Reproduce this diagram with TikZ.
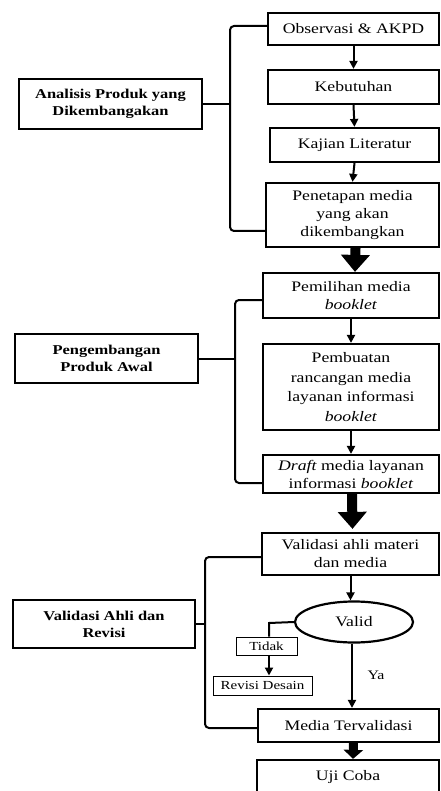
\documentclass[tikz,border=0pt]{standalone}
\usepackage{fontspec}
\setmainfont[FakeStretch=1.22]{Liberation Serif}
\usetikzlibrary{arrows.meta,shapes.geometric}
\begin{document}
\begin{tikzpicture}[x=1pt,y=-1pt,
  box/.style={draw,line width=2.2pt,align=center,inner sep=0pt,
    font=\fontsize{14.5}{18}\selectfont},
  head/.style={draw,line width=2.2pt,align=center,inner sep=0pt,
    font=\fontsize{13.5}{17}\selectfont\bfseries},
  small/.style={draw,line width=1pt,align=center,inner sep=0pt,
    font=\fontsize{12.3}{14}\selectfont},
  bracket/.style={line width=2pt,rounded corners=4pt},
  arr/.style={line width=2pt,-{Triangle[width=8pt,length=8pt]}},
  bigarr/.style={line width=10pt,-{Triangle[width=28pt,length=17pt]}},
  midarr/.style={line width=9pt,-{Triangle[width=19pt,length=9pt]}}]
\useasboundingbox (0,0) rectangle (440,791);
\clip (0,0) rectangle (440,791);
\fill[white] (0,0) rectangle (440,791);
% section 1
\node[box,minimum width=171pt,minimum height=32pt] (obs) at (353.5,29) {Observasi \& AKPD};
\node[box,minimum width=171pt,minimum height=34pt] (keb) at (353.5,87) {Kebutuhan};
\node[box,minimum width=169pt,minimum height=34pt] (kaj) at (354.5,145) {Kajian Literatur};
\node[box,minimum width=173pt,minimum height=64pt] (pen) at (352.5,215) {Penetapan media\\yang akan\\dikembangkan};
\node[head,minimum width=183pt,minimum height=50pt] (ana) at (110.5,104) {Analisis Produk yang\\Dikembangakan};
% section 2
\node[box,minimum width=176pt,minimum height=45pt] (pem) at (351,295.5) {Pemilihan media\\\textit{booklet}};
\node[box,minimum width=176pt,minimum height=86pt,font=\fontsize{14.5}{19.5}\selectfont] (pbu) at (351,387) {Pembuatan\\rancangan media\\layanan informasi\\\textit{booklet}};
\node[box,minimum width=176pt,minimum height=38pt] (dra) at (351,474) {\textit{Draft} media layanan\\informasi \textit{booklet}};
\node[head,minimum width=183pt,minimum height=49pt] (pga) at (106.5,358.5) {Pengembangan\\Produk Awal};
% section 3
\node[box,minimum width=177pt,minimum height=42pt] (val) at (350.5,554) {Validasi ahli materi\\dan media};
\node[draw,line width=2.2pt,ellipse,minimum width=118pt,minimum height=41pt,inner sep=0pt,
  font=\fontsize{14.5}{18}\selectfont] (ell) at (354,622) {Valid};
\node[head,minimum width=182pt,minimum height=48pt] (vah) at (104,624) {Validasi Ahli dan\\Revisi};
\node[small,minimum width=61pt,minimum height=18pt] (tid) at (266.5,646) {Tidak};
\node[small,minimum width=99pt,minimum height=19pt] (rev) at (262.5,685.5) {Revisi Desain};
\node[box,minimum width=181pt,minimum height=33pt] (med) at (348.5,725.5) {Media Tervalidasi};
\node[box,minimum width=182pt,minimum height=44pt,text depth=14pt] (uji) at (348,782) {Uji Coba};
\node[font=\fontsize{13}{15}\selectfont,inner sep=0pt] (ya) at (376,675) {Ya};
% arrows
\draw[arr] (obs.south) -- (keb.north);
\draw[arr] (keb.south) -- (kaj.north);
\draw[arr] (kaj.south) -- (pen.north);
\draw[bigarr] ([xshift=3pt]pen.south) -- ([xshift=4pt]pem.north);
\draw[arr] (pem.south) -- (pbu.north);
\draw[arr] (pbu.south) -- (dra.north);
\draw[bigarr] ([xshift=1pt]dra.south) -- ([xshift=2pt,yshift=3pt]val.north);
\draw[arr] (val.south) -- (val.south |- ell.north);
\coordinate (tk) at (269,623);
\draw[line width=2pt] (ell.west) -- (tk) -- (tk |- tid.north);
\draw[arr] (tk |- tid.south) -- (tk |- rev.north);
\draw[arr] ([xshift=-2pt]ell.south) -- ([xshift=-2pt]ell.south |- med.north);
\draw[midarr] ([xshift=5pt]med.south) -- ([xshift=5pt]uji.north);
% brackets
\coordinate (b1t) at (230,26);
\coordinate (b1b) at (230,231);
\draw[bracket] (obs.west |- b1t) -- (b1t) -- (b1b) -- (pen.west |- b1b);
\draw[bracket] (ana.east) -- (ana.east -| b1t);
\coordinate (b2t) at (235,300);
\coordinate (b2b) at (235,483);
\draw[bracket] (pem.west |- b2t) -- (b2t) -- (b2b) -- (dra.west |- b2b);
\draw[bracket] (pga.east) -- (pga.east -| b2t);
\coordinate (b3t) at (205,557);
\coordinate (b3b) at (205,728);
\draw[bracket] (val.west |- b3t) -- (b3t) -- (b3b) -- (med.west |- b3b);
\draw[bracket] (vah.east) -- (vah.east -| b3t);
\end{tikzpicture}
\end{document}
